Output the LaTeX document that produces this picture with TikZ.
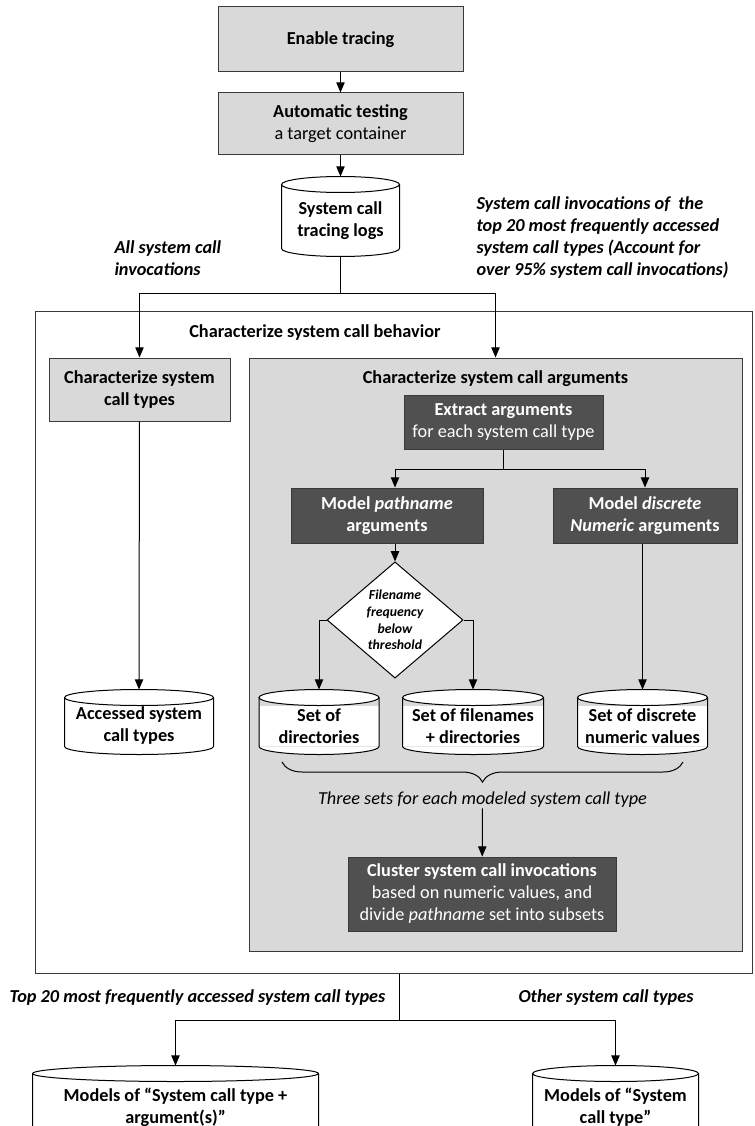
\documentclass[tikz,border=0pt]{standalone}
\usepackage{fontspec}
\setmainfont{Carlito}
\usetikzlibrary{arrows,shapes,calc,decorations.pathreplacing}
\definecolor{litegray}{HTML}{D9D9D9}
\definecolor{darkfill}{HTML}{505050}
\definecolor{edgegray}{HTML}{3A3A3A}
\newcommand{\mainsize}{\fontsize{13.7pt}{16.5pt}\selectfont}
\newcommand{\smallsize}{\fontsize{10.3pt}{12.5pt}\selectfont}
\newcommand{\dbry}{6pt}
% cylinder round a named node: top ellipse above it, round bottom below it
\newcommand{\drawdb}[1]{%
  \fill[white] let \p1=($(#1.south east)-(#1.south west)$) in
    (#1.south west) arc[start angle=180, end angle=360, x radius=0.5*\x1, y radius=\dbry] -- cycle;
  \draw let \p1=($(#1.south east)-(#1.south west)$) in
    ([yshift=\dbry]#1.north west) -- (#1.south west)
    arc[start angle=180, end angle=360, x radius=0.5*\x1, y radius=\dbry]
    -- ([yshift=\dbry]#1.north east);
  \draw[fill=white] let \p1=($(#1.south east)-(#1.south west)$) in
    ([yshift=\dbry]#1.north) ellipse[x radius=0.5*\x1, y radius=\dbry];
  \coordinate (#1-top) at ([yshift=2*\dbry]#1.north);
  \coordinate (#1-bot) at ([yshift=-\dbry]#1.south);
}

\begin{document}
\begin{tikzpicture}[x=0.75pt,y=-0.75pt,line width=0.75pt]
        \tikzstyle{arr}=[-triangle 45]
        \tikzstyle{litebox}=[draw=edgegray, fill=litegray, inner sep=0pt, align=center, font=\mainsize]
        \tikzstyle{darkbox}=[draw=edgegray, fill=darkfill, text=white, inner sep=0pt, align=center, font=\mainsize]
        \tikzstyle{dbnode}=[fill=white, inner sep=0pt, align=center, font=\mainsize\bfseries]
        \tikzstyle{lbl}=[inner sep=0pt, align=left, font=\mainsize\bfseries\itshape]

        \useasboundingbox (0,0) rectangle (754,1126);
        \clip (0,0) rectangle (754,1126);

        % tracing
        \node[litebox, minimum width=183.75pt, minimum height=48.75pt] (enable) at (340.5,39.5) {\textbf{Enable tracing}};
        \node[litebox, minimum width=183.75pt, minimum height=46.5pt] (auto) at (340.5,124) {\textbf{Automatic testing}\\a target container};
        \node[dbnode, minimum width=87.75pt, minimum height=41.25pt] (logs) at (340.5,220.5) {System call\\tracing logs};
        \drawdb{logs}
        \draw[arr] (enable) -- (auto);
        \draw[arr] (auto) -- (logs-top);

        \node[lbl, anchor=west] (allinv) at (114,258) {All system call\\invocations};
        \node[lbl, anchor=west] (topinv) at (476,238) {System call invocations of\ \ the\\top 20 most frequently accessed\\system call types (Account for\\over 95\% system call invocations)};

        % behavior frame
        \node[draw=edgegray, inner sep=0pt, minimum width=537.75pt, minimum height=495.75pt] (frame) at (393.5,642.5) {};
        \node[lbl, font=\mainsize\bfseries] (behavior) at (315,333) {Characterize system call behavior};
        \node[litebox, minimum width=135.75pt, minimum height=47.25pt] (chartypes) at (139.5,389.5) {\textbf{Characterize system}\\\textbf{call types}};
        \node[dbnode, minimum width=111pt, minimum height=30pt] (accessed) at (139,726) {Accessed system\\call types};
        \drawdb{accessed}

        % arguments
        \node[litebox, minimum width=369.75pt, minimum height=444.75pt] (argbox) at (495.5,654.5) {};
        \node[lbl, font=\mainsize\bfseries] (argtitle) at (495.5,379) {Characterize system call arguments};
        \node[darkbox, minimum width=149.25pt, minimum height=40.5pt] (extract) at (503.5,422) {\textbf{Extract arguments}\\for each system call type};
        \node[darkbox, font=\mainsize\bfseries, minimum width=144pt, minimum height=41.25pt] (pathname) at (387,515.5) {Model \textit{pathname}\\arguments};
        \node[darkbox, font=\mainsize\bfseries, minimum width=138pt, minimum height=41.25pt] (discrete) at (645,515.5) {Model \textit{discrete}\\\textit{Numeric} arguments};
        \node[diamond, draw=black, fill=white, inner sep=0pt, align=center, font=\smallsize\bfseries\itshape, minimum width=102pt, minimum height=87pt] (filt) at (395,620) {Filename\\frequency\\below\\threshold};
        \node[dbnode, minimum width=89.25pt, minimum height=30pt] (dirs) at (319,726) {Set of\\directories};
        \drawdb{dirs}
        \node[dbnode, minimum width=105pt, minimum height=30pt] (files) at (473,726) {Set of filenames\\+ directories};
        \drawdb{files}
        \node[dbnode, minimum width=96.75pt, minimum height=30pt] (values) at (642.5,726) {Set of discrete\\numeric values};
        \drawdb{values}
        \coordinate (bracea) at (282,762);
        \coordinate (braceb) at (683,762);
        \draw[decorate, decoration={brace, mirror, amplitude=15pt}] (bracea) -- (braceb);
        \node[inner sep=0pt, font=\mainsize\itshape] (sets) at (482.5,800) {Three sets for each modeled system call type};
        \node[darkbox, minimum width=201pt, minimum height=55.5pt] (cluster) at (482,894) {\textbf{Cluster system call invocations}\\based on numeric values, and\\divide \textit{pathname} set into subsets};

        \coordinate (split1) at (340.5,294);
        \coordinate (split2) at (503.5,469);
        \coordinate (split3) at (399,1020);
        \draw (logs-bot) -- (split1);
        \draw[arr] (split1) -| (chartypes);
        \draw[arr] (split1) -| (argbox);
        \draw[arr] (chartypes) -- (accessed-top);
        \draw (extract) -- (split2);
        \draw[arr] (split2) -| (pathname.north -| filt.north);
        \draw[arr] (split2) -| (discrete);
        \draw[arr] (pathname.south -| filt.north) -- (filt.north);
        \draw[arr] (filt.west) -| (dirs-top);
        \draw[arr] (filt.east) -| (files-top);
        \draw[arr] (discrete.south -| values-top) -- (values-top);
        \draw[arr] (sets) -- (cluster);

        % models
        \node[lbl] (toplbl) at (197.5,998) {Top 20 most frequently accessed system call types};
        \node[lbl] (otherlbl) at (606,998) {Other system call types};
        \node[dbnode, minimum width=213.75pt, minimum height=37.5pt] (models1) at (175.5,1107) {Models of “System call type +\\argument(s)”};
        \drawdb{models1}
        \node[dbnode, minimum width=123.75pt, minimum height=37.5pt] (models2) at (615.5,1107) {Models of “System\\call type”};
        \drawdb{models2}
        \draw (frame.south -| split3) -- (split3);
        \draw[arr] (split3) -| (models1-top);
        \draw[arr] (split3) -| (models2-top);
\end{tikzpicture}
\end{document}
